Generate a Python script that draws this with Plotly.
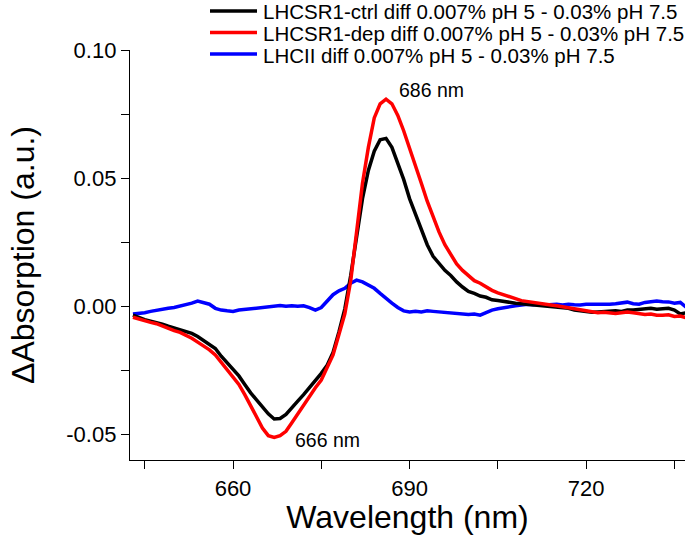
import plotly.graph_objects as go

wavelength = list(range(643, 738))

ctrl = [
    -0.0035, -0.0045, -0.0052, -0.0058, -0.0063, -0.0070, -0.0078, -0.0085, -0.0093, -0.0100,
    -0.0106, -0.0118, -0.0135, -0.0150, -0.0165, -0.0195, -0.0222, -0.0245, -0.0272, -0.0305,
    -0.0338, -0.0365, -0.0395, -0.0420, -0.0440, -0.0438, -0.0422, -0.0398, -0.0370, -0.0345,
    -0.0318, -0.0290, -0.0262, -0.0230, -0.0180, -0.0100, -0.0010, 0.0120, 0.0280, 0.0420,
    0.0530, 0.0605, 0.0650, 0.0655, 0.0620, 0.0560, 0.0495, 0.0420, 0.0360, 0.0295,
    0.0240, 0.0195, 0.0165, 0.0140, 0.0120, 0.0095, 0.0075, 0.0058, 0.0050, 0.0040,
    0.0035, 0.0025, 0.0022, 0.0018, 0.0015, 0.0012, 0.0010, 0.0008, 0.0005, 0.0004,
    0.0002, 0.0000, -0.0002, -0.0005, -0.0008, -0.0015, -0.0018, -0.0022, -0.0023, -0.0022,
    -0.0020, -0.0018, -0.0018, -0.0020, -0.0015, -0.0015, -0.0012, -0.0010, -0.0008, -0.0012,
    -0.0010, -0.0008, -0.0015, -0.0030, -0.0025,
]

dep = [
    -0.0043, -0.0050, -0.0058, -0.0063, -0.0068, -0.0078, -0.0088, -0.0095, -0.0102, -0.0113,
    -0.0125, -0.0140, -0.0155, -0.0170, -0.0190, -0.0220, -0.0248, -0.0275, -0.0305, -0.0345,
    -0.0390, -0.0430, -0.0475, -0.0505, -0.0512, -0.0505, -0.0488, -0.0455, -0.0420, -0.0385,
    -0.0350, -0.0318, -0.0288, -0.0240, -0.0190, -0.0110, -0.0030, 0.0100, 0.0290, 0.0480,
    0.0620, 0.0735, 0.0790, 0.0808, 0.0790, 0.0745, 0.0685, 0.0620, 0.0550, 0.0480,
    0.0410, 0.0345, 0.0290, 0.0240, 0.0200, 0.0165, 0.0140, 0.0118, 0.0100, 0.0090,
    0.0075, 0.0062, 0.0052, 0.0045, 0.0040, 0.0030, 0.0022, 0.0018, 0.0015, 0.0012,
    0.0008, 0.0005, 0.0002, -0.0002, -0.0005, -0.0010, -0.0015, -0.0020, -0.0023, -0.0025,
    -0.0023, -0.0025, -0.0028, -0.0025, -0.0022, -0.0025, -0.0030, -0.0032, -0.0030, -0.0035,
    -0.0035, -0.0033, -0.0040, -0.0038, -0.0045,
]

lhcii = [
    -0.0030, -0.0028, -0.0025, -0.0020, -0.0015, -0.0012, -0.0008, -0.0005, 0.0000, 0.0005,
    0.0012, 0.0020, 0.0015, 0.0008, -0.0008, -0.0015, -0.0018, -0.0020, -0.0015, -0.0012,
    -0.0010, -0.0008, -0.0005, -0.0002, 0.0000, 0.0003, 0.0000, 0.0002, 0.0000, 0.0002,
    -0.0005, -0.0015, -0.0005, 0.0020, 0.0045, 0.0060, 0.0070, 0.0090, 0.0102, 0.0095,
    0.0082, 0.0070, 0.0050, 0.0030, 0.0012, -0.0005, -0.0018, -0.0022, -0.0020, -0.0022,
    -0.0018, -0.0020, -0.0022, -0.0025, -0.0025, -0.0028, -0.0030, -0.0032, -0.0030, -0.0035,
    -0.0025, -0.0015, -0.0010, -0.0005, 0.0000, 0.0002, 0.0005, 0.0008, 0.0006, 0.0008,
    0.0005, 0.0006, 0.0008, 0.0005, 0.0008, 0.0006, 0.0005, 0.0008, 0.0008, 0.0006,
    0.0005, 0.0008, 0.0010, 0.0012, 0.0016, 0.0010, 0.0008, 0.0015, 0.0018, 0.0020,
    0.0018, 0.0017, 0.0012, 0.0015, -0.0004,
]

names = [
    "LHCSR1-ctrl diff 0.007% pH 5 - 0.03% pH 7.5",
    "LHCSR1-dep diff 0.007% pH 5 - 0.03% pH 7.5",
    "LHCII diff 0.007% pH 5 - 0.03% pH 7.5",
]
colors = ["#000000", "#ff0000", "#0000ff"]

y_tickvals = [-0.05, 0.0, 0.05, 0.10]
y_ticktext = ["-0.05", "0.00", "0.05", "0.10"]
x_tickvals = [660, 690, 720]

peak_labels = [(687.9, 0.0843, "686 nm"), (670.2, -0.0523, "666 nm")]

FONT = "Liberation Sans, Arial, sans-serif"

# layout geometry (pixels)
W, H = 685, 535
ML, MR, MT, MB = 130, 0, 50, 75
PW, PH = W - ML - MR, H - MT - MB


def px_x(px):
    return (px - ML) / PW


def px_y(py):
    return (H - MB - py) / PH


fig = go.Figure()
series = [ctrl, dep, lhcii]
draw_order = [2, 0, 1]
for i in draw_order:
    fig.add_trace(go.Scatter(x=wavelength, y=series[i], mode="lines", name=names[i],
                             line=dict(color=colors[i], width=3.5), showlegend=False))

# legend drawn as line samples + text, placed above the plot like the original
legend_rows_py = [12, 33.5, 55]
for name, color, py in zip(names, colors, legend_rows_py):
    fig.add_shape(type="line", xref="paper", yref="paper",
                  x0=px_x(210), x1=px_x(257), y0=px_y(py - 1), y1=px_y(py - 1),
                  line=dict(color=color, width=3.5))
    fig.add_annotation(xref="paper", yref="paper", x=px_x(261), y=px_y(py), text=name,
                       showarrow=False, xanchor="left", yanchor="middle",
                       font=dict(size=20.5, color="black", family=FONT))

for x, y, t in peak_labels:
    fig.add_annotation(x=x, y=y, text=t, showarrow=False, xanchor="left", yanchor="middle",
                       font=dict(size=19.5, color="black", family=FONT))

fig.update_layout(
    width=W, height=H,
    margin=dict(l=ML, r=MR, t=MT, b=MB, autoexpand=False),
    paper_bgcolor="white", plot_bgcolor="white",
    font=dict(family=FONT, color="black"),
    showlegend=False,
    xaxis=dict(range=[642.5, 736.8], tickvals=x_tickvals, ticks="outside", ticklen=8,
               tickwidth=1.3, tickcolor="black", showline=True, linecolor="black", linewidth=1.3,
               showgrid=False, zeroline=False, tickfont=dict(size=22), automargin=False,
               minor=dict(dtick=15, tick0=645, ticks="outside", ticklen=8, tickwidth=1.3,
                          tickcolor="black", showgrid=False),
               title=dict(text="Wavelength (nm)", font=dict(size=32), standoff=4)),
    yaxis=dict(range=[-0.06, 0.10], tickvals=y_tickvals, ticktext=y_ticktext, ticks="outside",
               ticklen=8, tickwidth=1.3, tickcolor="black", showline=True, linecolor="black",
               linewidth=1.3, showgrid=False, zeroline=False, tickfont=dict(size=22),
               automargin=False,
               minor=dict(dtick=0.025, tick0=0, ticks="outside", ticklen=8, tickwidth=1.3,
                          tickcolor="black", showgrid=False),
               title=dict(text="ΔAbsorption (a.u.)", font=dict(size=32), standoff=22)),
)

fig.write_html(
    "out.html",
    config={"displayModeBar": False},
    post_script="document.body.style.margin='0px';document.body.style.overflow='hidden';",
)
